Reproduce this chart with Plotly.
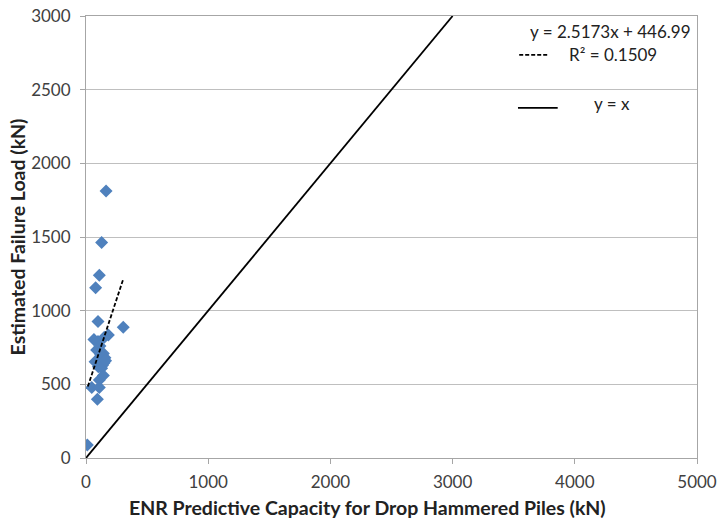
import plotly.graph_objects as go

# Data
enr_capacity = [164, 128, 109, 79, 98, 305, 65, 98, 183, 150, 87, 114, 142, 155, 74,
                114, 147, 101, 128, 109, 47, 109, 93, 11, 142, 120, 135, 160]
failure_load = [1813, 1463, 1241, 1155, 927, 887, 805, 790, 834, 820, 733, 760, 710, 680, 654,
                645, 645, 620, 610, 529, 479, 479, 398, 88, 560, 700, 630, 660]
trend_x = [15, 305]
slope, intercept = 2.5173, 446.99
trend_y = [slope * v + intercept for v in trend_x]
unity = [0, 3000]
x_ticks = [0, 1000, 2000, 3000, 4000, 5000]
y_ticks = [0, 500, 1000, 1500, 2000, 2500, 3000]

FONT = "Lato, Calibri, Carlito, sans-serif"
fig = go.Figure()
fig.add_trace(go.Scatter(x=enr_capacity, y=failure_load, mode="markers",
                         marker=dict(symbol="diamond", size=10, color="#4f81bd"),
                         showlegend=False))
fig.add_trace(go.Scatter(x=trend_x, y=trend_y, mode="lines",
                         line=dict(color="black", width=1.8, dash="4px,2px"), showlegend=False))
fig.add_trace(go.Scatter(x=unity, y=unity, mode="lines",
                         line=dict(color="black", width=1.8), showlegend=False))

axis_common = dict(showline=True, linecolor="#a6a6a6", linewidth=1, mirror=True,
                   ticks="outside", ticklen=5, tickcolor="#a6a6a6", automargin=False,
                   tickfont=dict(family=FONT, size=17, color="#404040"), zeroline=False)
fig.update_xaxes(range=[0, 5000], tickvals=x_ticks, showgrid=False, ticklabelstandoff=4,
                 **axis_common)
fig.update_yaxes(range=[0, 3000], tickvals=y_ticks, showgrid=True, gridcolor="#bfbfbf",
                 ticklabelstandoff=6,
                 title=dict(text="<b>Estimated Failure Load (kN)</b>",
                            font=dict(family=FONT, size=19.5, color="#222"), standoff=0),
                 **axis_common)

fig.add_annotation(xref="paper", yref="paper", x=0.46, y=-0.111,
                   text="<b>ENR Predictive Capacity for Drop Hammered Piles (kN)</b>",
                   showarrow=False, xanchor="center", yanchor="middle",
                   font=dict(family=FONT, size=19.5, color="#222"))

# legend-like labels
lf = dict(family=FONT, size=17, color="#222")
fig.add_annotation(xref="paper", yref="paper", x=0.994, y=0.966, text="y = 2.5173x + 446.99",
                   showarrow=False, xanchor="right", yanchor="middle", font=lf)
fig.add_annotation(xref="paper", yref="paper", x=0.787, y=0.914, text="R² = 0.1509",
                   showarrow=False, xanchor="left", yanchor="middle", font=lf)
fig.add_annotation(xref="paper", yref="paper", x=0.828, y=0.801, text="y = x",
                   showarrow=False, xanchor="left", yanchor="middle", font=lf)
fig.add_shape(type="line", xref="paper", yref="paper", x0=0.709, x1=0.756, y0=0.912, y1=0.912,
              line=dict(color="black", width=1.6, dash="4px,2px"))
fig.add_shape(type="line", xref="paper", yref="paper", x0=0.707, x1=0.772, y0=0.792, y1=0.792,
              line=dict(color="black", width=1.8))

fig.update_layout(width=717, height=521, margin=dict(l=86, r=20, t=16, b=63),
                  paper_bgcolor="white", plot_bgcolor="white")
fig.write_html("out.html")
